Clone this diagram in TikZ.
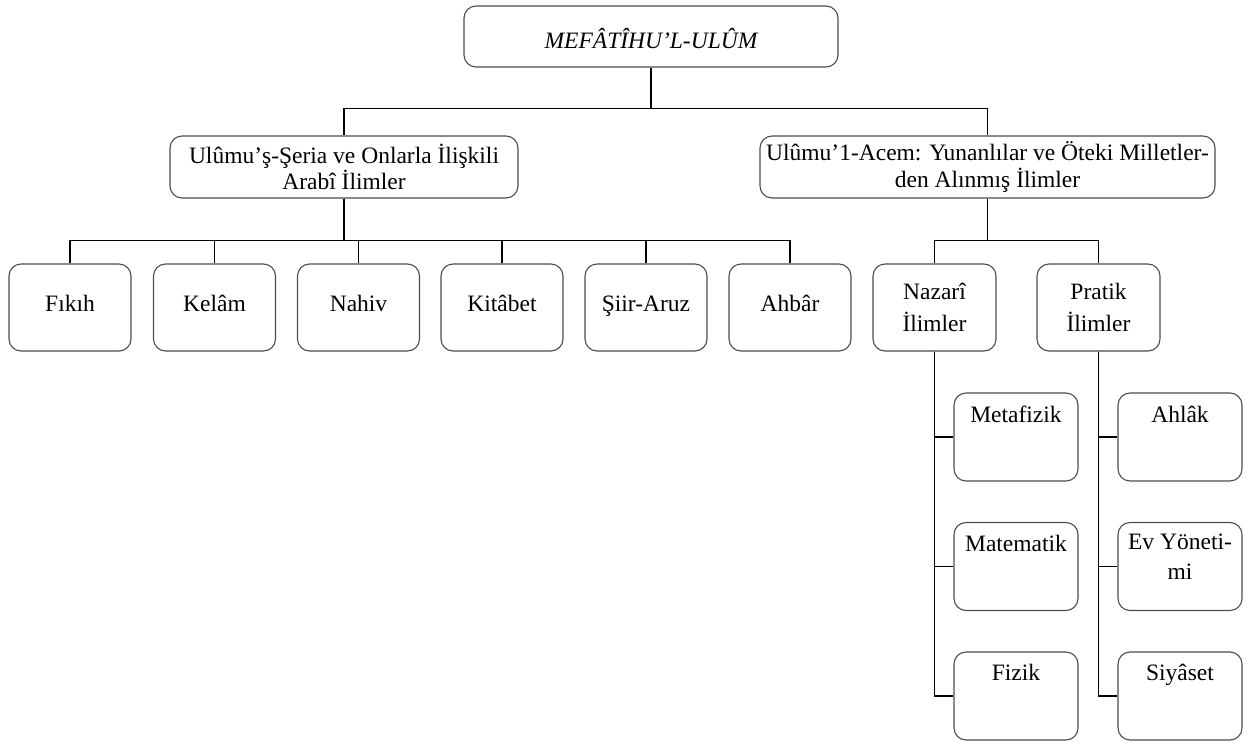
\documentclass[tikz,border=0pt]{standalone}
\usepackage{fontspec}
\setmainfont{Liberation Serif}
\begin{document}
\begin{tikzpicture}[x=1pt,y=-1pt,
  box/.style={draw=black!70, line width=1.1pt, rounded corners=12pt, fill=white,
    align=center, inner sep=0pt, font=\fontsize{23.5}{26.5}\selectfont},
  small/.style={box, minimum width=122pt, minimum height=87pt},
  single/.style={small, text height=16pt, text depth=8pt},
  topt/.style={anchor=north, inner sep=0pt, align=center, font=\fontsize{23.5}{27}\selectfont},
  conn/.style={line width=1.2pt, black}]
\useasboundingbox (0,0) rectangle (1250,742);
% top
\node[box, minimum width=374pt, minimum height=61pt, text height=23pt, text depth=0pt, font=\fontsize{23.5}{26.5}\selectfont\itshape] (root) at (651,36.5) {MEFÂTÎHU’L-ULÛM};
% level 1
\node[box, minimum width=348pt, minimum height=62pt] (L) at (344,167) {Ulûmu’ş-Şeria ve Onlarla İlişkili\\Arabî İlimler};
\node[box, minimum width=455pt, minimum height=62pt] (R) at (987.5,167) {Ulûmu’1-Acem: Yunanlılar ve Öteki Milletler-\\den Alınmış İlimler};
% level 2 left
\node[single] (fikih) at (70,307.5) {Fıkıh};
\node[single] (kelam) at (214.5,307.5) {Kelâm};
\node[single] (nahiv) at (358.5,307.5) {Nahiv};
\node[single] (kitabet) at (502,307.5) {Kitâbet};
\node[single] (siir) at (646,307.5) {Şiir-Aruz};
\node[single] (ahbar) at (790,307.5) {Ahbâr};
% level 2 right
\node[small, minimum width=123pt] (naz) at (934.5,307.5) {Nazarî\\[6pt]İlimler};
\node[small, minimum width=123pt] (pra) at (1098.5,307.5) {Pratik\\[6pt]İlimler};
% level 3
\node[small, minimum width=124pt, minimum height=88pt] (meta) at (1016,437) {};
\node[small, minimum width=124pt, minimum height=88pt] (mate) at (1016,566.5) {};
\node[small, minimum width=124pt, minimum height=88pt] (fiz) at (1016,696) {};
\node[small, minimum width=124pt, minimum height=88pt] (ahl) at (1180,437) {};
\node[small, minimum width=124pt, minimum height=88pt] (ev) at (1180,566.5) {};
\node[small, minimum width=124pt, minimum height=88pt] (siy) at (1180,696) {};
\node[topt] (metat) at ([yshift=-13pt]meta.north) {Metafizik};
\node[topt] (matet) at ([yshift=-13pt]mate.north) {Matematik};
\node[topt] (fizt) at ([yshift=-13pt]fiz.north) {Fizik};
\node[topt] (ahlt) at ([yshift=-13pt]ahl.north) {Ahlâk};
\node[topt] (evt) at ([yshift=-12pt]ev.north) {Ev Yöneti-\\[3pt]mi};
\node[topt] (siyt) at ([yshift=-12pt]siy.north) {Siyâset};
% connectors
\draw[conn] (root.south) -- ++(0,41) -| (L.north);
\draw[conn] (root.south) -- ++(0,41) -| (R.north);
\coordinate (lj) at ([yshift=-42pt]L.south);
\foreach \n in {fikih,kelam,nahiv,kitabet,siir,ahbar}
  \draw[conn] (L.south) -- (lj) -| (\n.north);
\coordinate (rj) at ([yshift=-42pt]R.south);
\draw[conn] (R.south) -- (rj) -| (naz.north);
\draw[conn] (R.south) -- (rj) -| (pra.north);
\foreach \n in {meta,mate,fiz}
  \draw[conn] (naz.south) |- (\n.west);
\foreach \n in {ahl,ev,siy}
  \draw[conn] (pra.south) |- (\n.west);
\end{tikzpicture}
\end{document}
